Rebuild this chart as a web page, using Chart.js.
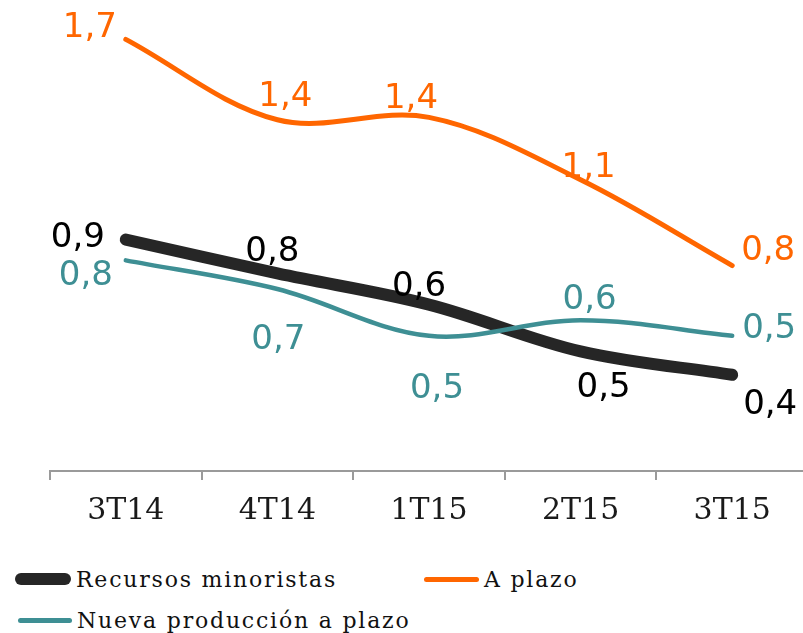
<!DOCTYPE html>
<html>
<head>
<meta charset="utf-8">
<script src="https://cdn.jsdelivr.net/npm/chart.js@4.4.0/dist/chart.umd.min.js"></script>
<style>
  html, body { margin: 0; padding: 0; background: #fff; overflow: hidden; }
  #wrap { position: relative; width: 815px; height: 540px; }
  .legend { position: absolute; left: 0; top: 0; width: 803px; font-family: "DejaVu Serif", serif; font-size: 22px; letter-spacing: 1.8px; color: #111; white-space: nowrap; }
  .item { position: absolute; display: flex; align-items: center; height: 30px; }
  .sw { border-radius: 6px; margin-right: 5px; flex: none; }
</style>
</head>
<body>
<div id="wrap"><canvas id="grafico" width="815" height="540"></canvas></div>
<div class="legend">
  <div class="item" style="left:15px; top:564px;"><span class="sw" style="width:56px;height:12px;background:#262626"></span>Recursos minoristas</div>
  <div class="item" style="left:424px; top:564px;"><span class="sw" style="width:55px;height:5px;background:#FF6600"></span>A plazo</div>
  <div class="item" style="left:18px; top:605px;"><span class="sw" style="width:54px;height:5px;background:#3E8F94"></span>Nueva producción a plazo</div>
</div>
<script type="text/javascript">
  // datos (tasas en %)
  var trimestres = ["3T14", "4T14", "1T15", "2T15", "3T15"];
  var recursosMinoristas = [0.89, 0.76, 0.64, 0.46, 0.37];
  var aPlazo = [1.66, 1.351, 1.36, 1.12, 0.79];
  var nuevaProduccion = [0.81, 0.70, 0.52, 0.58, 0.52];

  // desplazamiento de las etiquetas respecto al punto
  var offsets = [
    [[-48, -5], [-5, -25], [-10, -21], [23, 33], [38, 27]],
    [[-36, -15], [8, -26], [-18, -22], [8, -15], [36, -18]],
    [[-40, 12], [1, 47], [8, 50], [9, -24], [37, -10]]
  ];
  var labelColors = ["#000000", "#FF6600", "#3E8F94"];

  var etiquetas = {
    id: 'etiquetas',
    afterDatasetsDraw: function(chart) {
      var ctx = chart.ctx;
      ctx.save();
      ctx.font = '34px "DejaVu Sans"';
      ctx.textAlign = 'center';
      ctx.textBaseline = 'alphabetic';
      chart.data.datasets.forEach(function(ds, i) {
        var meta = chart.getDatasetMeta(i);
        meta.data.forEach(function(pt, j) {
          var txt = ds.data[j].toFixed(1).replace('.', ',');
          ctx.fillStyle = labelColors[i];
          ctx.fillText(txt, pt.x + offsets[i][j][0], pt.y + offsets[i][j][1] + 12.5);
        });
      });
      ctx.restore();
    }
  };

  var chart = document.getElementById("grafico");
  var myChart = new Chart(chart, {
      type: 'line',
      data: {
          labels: trimestres,
          datasets: [{
              label: "Recursos minoristas",
              data: recursosMinoristas,
              borderColor: "#262626",
              borderWidth: 12,
              order: 2
          }, {
              label: "A plazo",
              data: aPlazo,
              borderColor: "#FF6600",
              borderWidth: 5,
              order: 1
          }, {
              label: "Nueva producción a plazo",
              data: nuevaProduccion,
              borderColor: "#3E8F94",
              borderWidth: 4.5,
              order: 0
          }]
      },
      options: {
          responsive: false,
          animation: false,
          layout: { padding: { left: 50, right: 7, top: 3, bottom: 0 } },
          elements: {
              point: { radius: 0 },
              line: { tension: 0.35, borderCapStyle: 'round', borderJoinStyle: 'round', fill: false }
          },
          plugins: { legend: { display: false }, tooltip: { enabled: false } },
          scales: {
              x: {
                  offset: true,
                  afterFit: function(scale) { scale.height = 69; },
                  border: { color: "#9a9a9a", width: 2 },
                  grid: { offset: true, drawOnChartArea: false, tickLength: 9, color: "#9a9a9a", lineWidth: 2 },
                  ticks: { color: "#1a1a1a", padding: 13, font: { family: "DejaVu Serif", size: 30 } }
              },
              y: { display: false, min: 0, max: 1.8 }
          }
      },
      plugins: [etiquetas]
  });
</script>
</body>
</html>
